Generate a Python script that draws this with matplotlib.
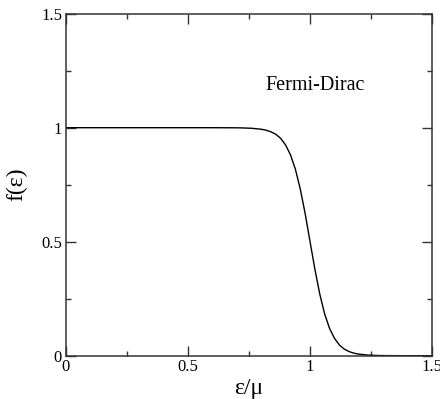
import matplotlib

matplotlib.use("Agg")
import matplotlib.pyplot as plt  # noqa: E402
from matplotlib.ticker import MultipleLocator  # noqa: E402

# occupation (epsilon / mu -> f)
energy = [0.0, 0.20, 0.40, 0.60, 0.70, 0.72, 0.76, 0.80, 0.82, 0.84, 0.86,
          0.88, 0.90, 0.92, 0.94, 0.96, 0.98, 1.00, 1.02, 1.04, 1.06, 1.08,
          1.10, 1.12, 1.14, 1.16, 1.18, 1.20, 1.24, 1.28, 1.32, 1.40, 1.50]
occupation = [1.000, 1.000, 1.000, 1.000, 0.9995, 0.9991, 0.9975, 0.9933,
              0.989, 0.982, 0.971, 0.953, 0.924, 0.881, 0.818, 0.731, 0.623,
              0.500, 0.378, 0.269, 0.182, 0.119, 0.076, 0.047, 0.029, 0.018,
              0.011, 0.0067, 0.0025, 0.0009, 0.0003, 0.0, 0.0]

plt.rcParams["font.family"] = ["Liberation Serif", "DejaVu Serif"]

fig = plt.figure(figsize=(4.4, 3.99), dpi=100)
ax = fig.add_axes([0.149, 0.1085, 0.8335, 0.8572])
ax.plot(energy, occupation, color="black", linewidth=1.0)

ax.set_xlim(0, 1.5)
ax.set_ylim(0, 1.5)
ax.xaxis.set_minor_locator(MultipleLocator(0.25))
ax.yaxis.set_minor_locator(MultipleLocator(0.25))
ax.set_xticks([0, 0.5, 1, 1.5], ["0", "0.5", "1", "1.5"])
ax.set_yticks([0, 0.5, 1, 1.5], ["0", "0.5", "1", "1.5"])
ax.tick_params(which="both", direction="in", top=True, right=True,
               labelsize=12, width=1.0, color="#333333")
ax.tick_params(which="major", length=7, pad=2.5)
ax.tick_params(which="minor", length=3.6)
for s in ax.spines.values():
    s.set_linewidth(1.1)
    s.set_color("#333333")

ax.set_xlabel("ε/μ", fontsize=17, labelpad=2)
ax.set_ylabel("f(ε)", fontsize=17, labelpad=10)
ax.text(0.817, 1.165, "Fermi-Dirac", fontsize=14.5)

fig.savefig("out.png", dpi=100)
